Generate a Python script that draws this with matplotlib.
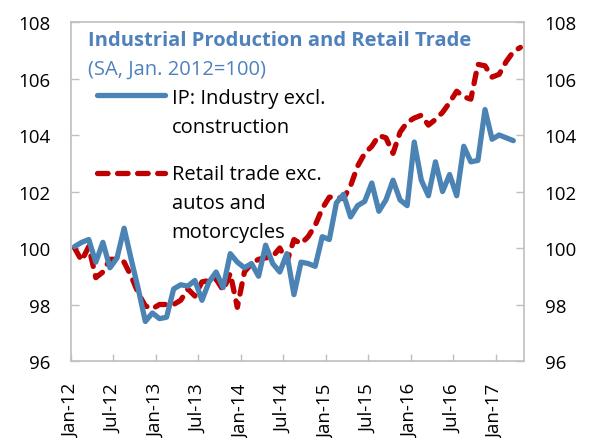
import matplotlib
matplotlib.use("Agg")
import matplotlib.pyplot as plt
from matplotlib.lines import Line2D

plt.rcParams["font.family"] = ["Open Sans", "DejaVu Sans"]

BLUE = "#4A83B4"
RED = "#C00000"
GREY = "#BFBFBF"
TITLE_BLUE = "#4F81BD"

# monthly index, Jan-12 = 0
ip = [100.05, 100.2, 100.3, 99.5, 100.2, 99.3, 99.65, 100.7, 99.6, 98.55,
      97.4, 97.7, 97.5, 97.55, 98.55, 98.7, 98.65, 98.85, 98.15, 98.8,
      99.15, 98.6, 99.8, 99.5, 99.3, 99.45, 99.0, 100.1, 99.45, 99.15,
      99.8, 98.35, 99.5, 99.45, 99.35, 100.4, 100.3, 101.6, 101.9, 101.1,
      101.5, 101.65, 102.3, 101.3, 101.7, 102.4, 101.7, 101.5, 103.75, 102.4,
      101.85, 103.05, 102.0, 102.6, 101.85, 103.6, 103.05, 103.1, 104.9, 103.85,
      104.0, 103.9, 103.8]
retail = [100.0, 99.55, 100.05, 98.95, 99.15, 99.6, 99.6, 99.5, 99.0, 98.4,
          97.95, 97.85, 98.0, 98.0, 98.0, 98.15, 98.55, 98.3, 98.8, 98.85,
          98.9, 98.5, 99.1, 97.9, 99.15, 99.45, 99.6, 99.65, 99.7, 100.0,
          99.5, 100.3, 100.15, 100.4, 100.8, 101.4, 101.8, 101.8, 101.75, 102.2,
          102.9, 103.35, 103.6, 103.98, 103.9, 103.35, 104.1, 104.45, 104.6, 104.7,
          104.35, 104.55, 104.8, 105.15, 105.55, 105.35, 105.27, 106.5, 106.45, 106.05,
          106.15, 106.6, 106.95, 107.1]
tick_labels = ["Jan-12", "Jul-12", "Jan-13", "Jul-13", "Jan-14", "Jul-14",
               "Jan-15", "Jul-15", "Jan-16", "Jul-16", "Jan-17"]
y_ticks = [96, 98, 100, 102, 104, 106, 108]

fig = plt.figure(figsize=(5.92, 4.39), dpi=100)
ax = fig.add_axes([0.12, 0.1754, 0.765, 0.7722])

ax.plot(range(len(ip)), ip, color=BLUE, lw=3.8, solid_joinstyle="round",
        solid_capstyle="round", zorder=3)
ax.plot(range(len(retail)), retail, color=RED, lw=3.8, dashes=(2.0, 1.8),
        dash_capstyle="round", dash_joinstyle="round", zorder=2)

ax.set_xlim(-0.5, 63.5)
ax.set_ylim(96, 108)
ax.set_yticks(y_ticks)
ax.set_yticklabels([str(v) for v in y_ticks])
ax.set_xticks([i * 6 - 0.5 for i in range(len(tick_labels))])
ax.set_xticklabels(tick_labels, rotation=90)

for s in ax.spines.values():
    s.set_color(GREY)
    s.set_linewidth(1.2)
ax.tick_params(axis="y", direction="in", length=6, width=1, color=GREY,
               labelsize=13.5, right=True, labelright=True, pad=15)
ax.tick_params(axis="x", direction="in", length=5, width=1, color=GREY,
               labelsize=13.5, pad=16)

ax.text(0.0375, 0.947, "Industrial Production and Retail Trade", transform=ax.transAxes,
        color=TITLE_BLUE, fontsize=14.5, fontweight="bold", ha="left", va="center")
ax.text(0.0375, 0.861, "(SA, Jan. 2012=100)", transform=ax.transAxes,
        color=TITLE_BLUE, fontsize=14.5, ha="left", va="center")

# legend swatches and labels
ax.add_line(Line2D([0.057, 0.2075], [0.785, 0.785], transform=ax.transAxes,
                   color=BLUE, lw=3.8, solid_capstyle="round"))
ax.add_line(Line2D([0.057, 0.2075], [0.5546, 0.5546], transform=ax.transAxes,
                   color=RED, lw=3.8, dashes=(2.0, 1.8), dash_capstyle="round"))
ax.text(0.222, 0.804, "IP: Industry excl.\nconstruction", transform=ax.transAxes,
        fontsize=14.5, ha="left", va="top", linespacing=1.6)
ax.text(0.222, 0.580, "Retail trade exc.\nautos and\nmotorcycles", transform=ax.transAxes,
        fontsize=14.5, ha="left", va="top", linespacing=1.6)

fig.savefig("out.png", dpi=100)
